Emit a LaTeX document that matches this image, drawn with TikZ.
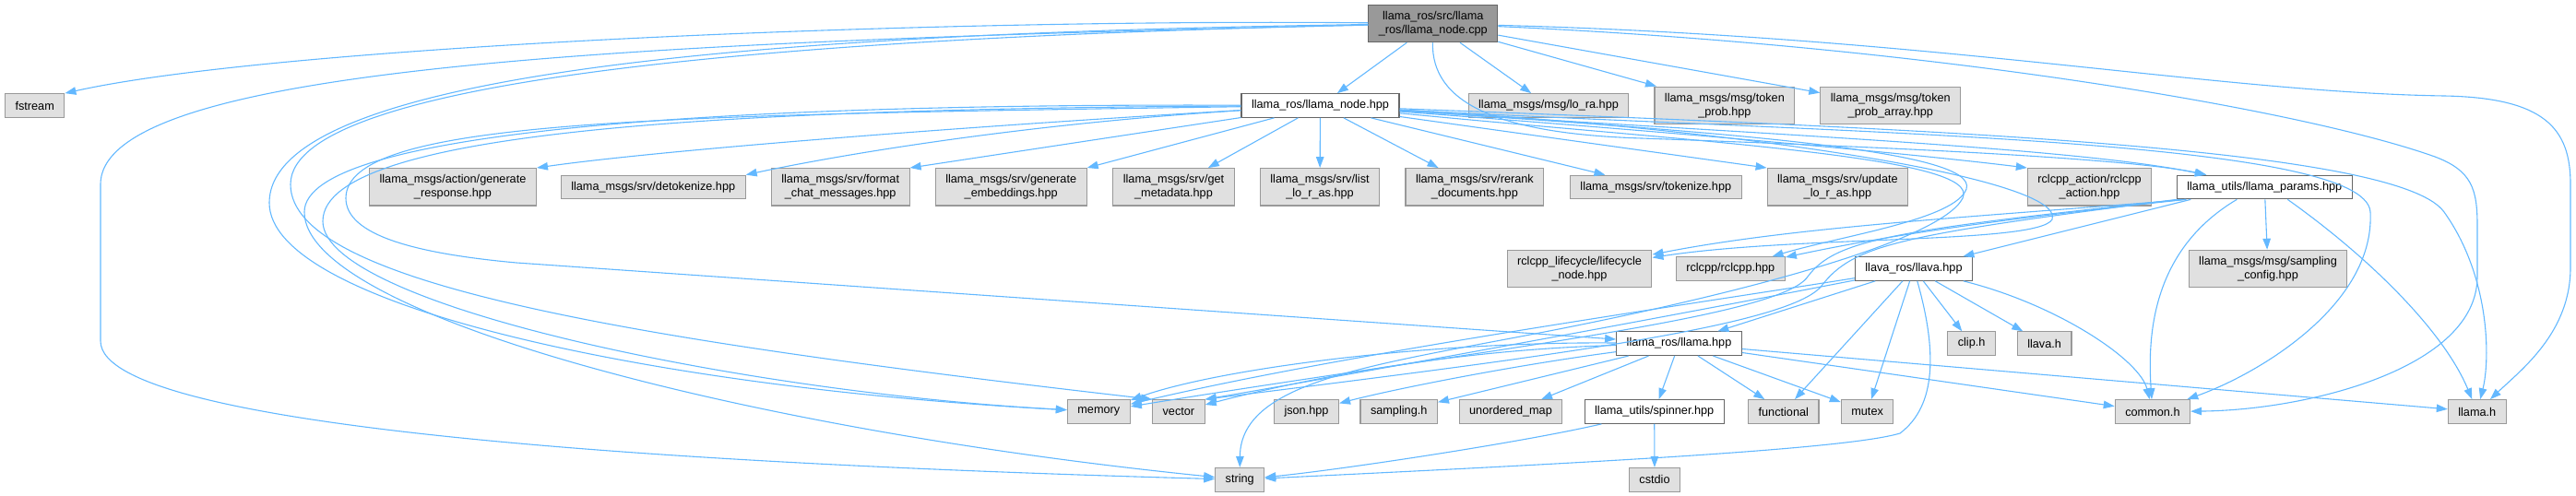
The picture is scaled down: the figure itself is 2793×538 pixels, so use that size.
\documentclass[tikz,border=0pt]{standalone}
\usepackage{fontspec}
\newfontfamily\graphfont{Liberation Sans}
\usepackage{tikz}
\usetikzlibrary{arrows.meta,calc}
\definecolor{edgeblue}{HTML}{63B8FF}
\definecolor{boxfill}{HTML}{E0E0E0}
\definecolor{boxline}{HTML}{999999}
\definecolor{curfill}{HTML}{999999}
\definecolor{locline}{HTML}{666666}

\begin{document}
\begin{tikzpicture}[x=1pt, y=-1pt,
    hdrbox/.style={draw=boxline, fill=boxfill, line width=1.1pt, inner xsep=11pt, inner ysep=0pt,
        minimum height=25.6pt, align=center, font={\graphfont\fontsize{12.7}{15}\selectfont}},
    twoline/.style={minimum height=40.4pt},
    localbox/.style={hdrbox, fill=white, draw=locline},
    rootbox/.style={hdrbox, twoline, fill=curfill, draw=locline},
    incl/.style={draw=edgeblue, line width=1.1pt, -{Triangle[length=12pt,width=8.5pt]}}]
    \useasboundingbox (0,0) rectangle (2793,538);

    \node[rootbox] (main) at (1553.8,25.5) {llama\_ros/src/llama\\\_ros/llama\_node.cpp};
    \node[hdrbox] (fstream) at (37.7,114.5) {fstream};
    \node[localbox] (node) at (1431.5,114.5) {llama\_ros/llama\_node.hpp};
    \node[hdrbox] (lora) at (1679,114.5) {llama\_msgs/msg/lo\_ra.hpp};
    \node[hdrbox,twoline] (tokprob) at (1869.9,114.3) {llama\_msgs/msg/token\\\_prob.hpp};
    \node[hdrbox,twoline] (tokarr) at (2049.8,114.3) {llama\_msgs/msg/token\\\_prob\_array.hpp};

    \node[hdrbox,twoline] (genresp) at (491,202.8) {llama\_msgs/action/generate\\\_response.hpp};
    \node[hdrbox] (detok) at (708.2,203) {llama\_msgs/srv/detokenize.hpp};
    \node[hdrbox,twoline] (fmtchat) at (911.2,202.8) {llama\_msgs/srv/format\\\_chat\_messages.hpp};
    \node[hdrbox,twoline] (genemb) at (1096.2,202.8) {llama\_msgs/srv/generate\\\_embeddings.hpp};
    \node[hdrbox,twoline] (getmeta) at (1272.5,202.8) {llama\_msgs/srv/get\\\_metadata.hpp};
    \node[hdrbox,twoline] (listlora) at (1431,202.8) {llama\_msgs/srv/list\\\_lo\_r\_as.hpp};
    \node[hdrbox,twoline] (rerank) at (1598.9,202.8) {llama\_msgs/srv/rerank\\\_documents.hpp};
    \node[hdrbox] (tokenize) at (1795.3,203) {llama\_msgs/srv/tokenize.hpp};
    \node[hdrbox,twoline] (updlora) at (1992.4,202.8) {llama\_msgs/srv/update\\\_lo\_r\_as.hpp};
    \node[hdrbox,twoline] (rclact) at (2265.5,202.8) {rclcpp\_action/rclcpp\\\_action.hpp};
    \node[localbox] (params) at (2455.3,203) {llama\_utils/llama\_params.hpp};

    \node[hdrbox,twoline] (lifecyc) at (1712.5,291.5) {rclcpp\_lifecycle/lifecycle\\\_node.hpp};
    \node[hdrbox] (rclcpp) at (1876.3,291.5) {rclcpp/rclcpp.hpp};
    \node[localbox] (llava) at (2075,291.5) {llava\_ros/llava.hpp};
    \node[hdrbox,twoline] (sampcfg) at (2459,291.5) {llama\_msgs/msg/sampling\\\_config.hpp};

    \node[localbox] (llama) at (1820.5,372.7) {llama\_ros/llama.hpp};
    \node[hdrbox] (cliph) at (2137.6,372.7) {clip.h};
    \node[hdrbox] (llavah) at (2216.6,372.7) {llava.h};

    \node[hdrbox] (memory) at (1191.3,446.5) {memory};
    \node[hdrbox] (vector) at (1277.9,446.5) {vector};
    \node[hdrbox] (json) at (1416.5,446.5) {json.hpp};
    \node[hdrbox] (samph) at (1516.7,446.5) {sampling.h};
    \node[hdrbox] (umap) at (1638,446.5) {unordered\_map};
    \node[localbox] (spinner) at (1793.7,446.5) {llama\_utils/spinner.hpp};
    \node[hdrbox] (functional) at (1933.8,446.5) {functional};
    \node[hdrbox] (mutex) at (2024.6,446.5) {mutex};
    \node[hdrbox] (commonh) at (2333.9,446.5) {common.h};
    \node[hdrbox] (llamah) at (2685.8,446.5) {llama.h};

    \node[hdrbox] (string) at (1344.2,520.3) {string};
    \node[hdrbox] (cstdio) at (1794,520.3) {cstdio};

    \draw[incl] (main) .. controls (1000,20) and (300,50) .. (fstream.north east);
    \draw[incl] (main) -- (node);
    \draw[incl] (main) -- (lora);
    \draw[incl] (main) -- (tokprob);
    \draw[incl] (main) -- (tokarr);
    \draw[incl] (main) .. controls (700,45) and (109,70) .. (109,200) -- (109,370)
        .. controls (109,470) and (800,505) .. (string);
    \draw[incl] (main) .. controls (900,35) and (292,70) .. (292,220)
        .. controls (292,330) and (700,420) .. (memory);
    \draw[incl] (main) .. controls (900,40) and (315,80) .. (315,200)
        .. controls (315,310) and (700,370) .. (vector.north west);
    \draw[incl] (main) .. controls (1552,110) and (1620,145) .. (1780,150)
        .. controls (2000,158) and (2300,170) .. (params);
    \draw[incl] (main) .. controls (2100,50) and (2500,120) .. (2640,170)
        .. controls (2680,185) and (2686,205) .. (2686,245) -- (2686,300)
        .. controls (2686,400) and (2500,445) .. (commonh);
    \draw[incl] (main) .. controls (2100,40) and (2400,100) .. (2650,104)
        .. controls (2760,106) and (2787,140) .. (2787,200) -- (2787,290)
        .. controls (2787,360) and (2735,400) .. (llamah);

    \draw[incl] (node) .. controls (1000,140) and (700,165) .. (genresp.north east);
    \draw[incl] (node) .. controls (1100,135) and (900,170) .. (detok.north east);
    \draw[incl] (node) -- (fmtchat.north east);
    \draw[incl] (node) -- (genemb.north east);
    \draw[incl] (node) -- (getmeta);
    \draw[incl] (node) -- (listlora);
    \draw[incl] (node) -- (rerank);
    \draw[incl] (node) -- (tokenize);
    \draw[incl] (node) -- (updlora.north west);
    \draw[incl] (node) .. controls (1900,150) and (2100,170) .. (rclact.north west);
    \draw[incl] (node) .. controls (1900,145) and (2250,160) .. (params);
    \draw[incl] (node) .. controls (800,112) and (330,140) .. (330,230)
        .. controls (330,340) and (800,465) .. (string);
    \draw[incl] (node) .. controls (800,118) and (350,140) .. (350,240)
        .. controls (350,330) and (800,425) .. (memory);
    \draw[incl] (node) .. controls (700,125) and (375,130) .. (375,215)
        .. controls (375,255) and (450,275) .. (560,285) -- (llama);
    \draw[incl] (node) .. controls (1900,140) and (2240,195) .. (2225,238)
        .. controls (2210,265) and (1950,255) .. (lifecyc);
    \draw[incl] (node) .. controls (1900,145) and (2145,165) .. (2132,205)
        .. controls (2120,238) and (2000,255) .. (rclcpp);
    \draw[incl] (node) .. controls (1850,155) and (2150,170) .. (2128,215)
        .. controls (2105,260) and (1900,315) .. (1700,355)
        .. controls (1500,395) and (1345,410) .. (string);
    \draw[incl] (node) .. controls (2000,145) and (2565,150) .. (2570,230)
        .. controls (2575,330) and (2450,405) .. (commonh);
    \draw[incl] (node) .. controls (2100,140) and (2600,160) .. (2650,230)
        .. controls (2700,300) and (2700,390) .. (llamah);

    \draw[incl] (params) -- (sampcfg);
    \draw[incl] ($(params.south)+(-30,0)$) .. controls (2335,270) and (2328,360) .. (commonh);
    \draw[incl] ($(params.south)+(25,0)$) .. controls (2570,280) and (2650,360) .. (llamah);
    \draw[incl] ($(params.south)+(-80,0)$) -- (llava);
    \draw[incl] ($(params.south)+(-85,0)$) .. controls (2150,235) and (1950,245) .. (lifecyc);
    \draw[incl] ($(params.south)+(-85,0)$) .. controls (2150,240) and (2050,255) .. (rclcpp);
    \draw[incl] ($(params.south)+(-90,0)$) .. controls (2050,250) and (1990,260) .. (1960,300)
        .. controls (1930,345) and (1600,380) .. (memory);
    \draw[incl] ($(params.south)+(-95,0)$) .. controls (2060,255) and (2010,265) .. (1975,310)
        .. controls (1940,355) and (1650,390) .. (vector.north east);

    \draw[incl] (llava) -- (llama);
    \draw[incl] (llava) -- (cliph);
    \draw[incl] (llava) -- (llavah);
    \draw[incl] (llava) -- (functional);
    \draw[incl] (llava) -- (mutex);
    \draw[incl] (llava) .. controls (2230,330) and (2320,390) .. (commonh);
    \draw[incl] (llava) .. controls (2100,380) and (2100,440) .. (2060,470)
        .. controls (2000,488) and (1700,503) .. (string);
    \draw[incl] (llava) .. controls (1800,335) and (1450,385) .. (memory);
    \draw[incl] (llava) .. controls (1800,345) and (1500,400) .. (vector.north east);

    \draw[incl] (llama) .. controls (1650,395) and (1520,420) .. (json);
    \draw[incl] (llama) -- (samph);
    \draw[incl] (llama) -- (umap);
    \draw[incl] (llama) -- (spinner);
    \draw[incl] (llama) -- (functional);
    \draw[incl] (llama) -- (mutex);
    \draw[incl] (llama) -- (commonh);
    \draw[incl] (llama) -- (llamah);
    \draw[incl] (llama) .. controls (1550,370) and (1320,400) .. (memory);
    \draw[incl] (llama) .. controls (1550,380) and (1380,420) .. (vector);

    \draw[incl] (spinner) -- (cstdio);
    \draw[incl] (spinner) .. controls (1650,480) and (1450,510) .. (string);
\end{tikzpicture}
\end{document}
